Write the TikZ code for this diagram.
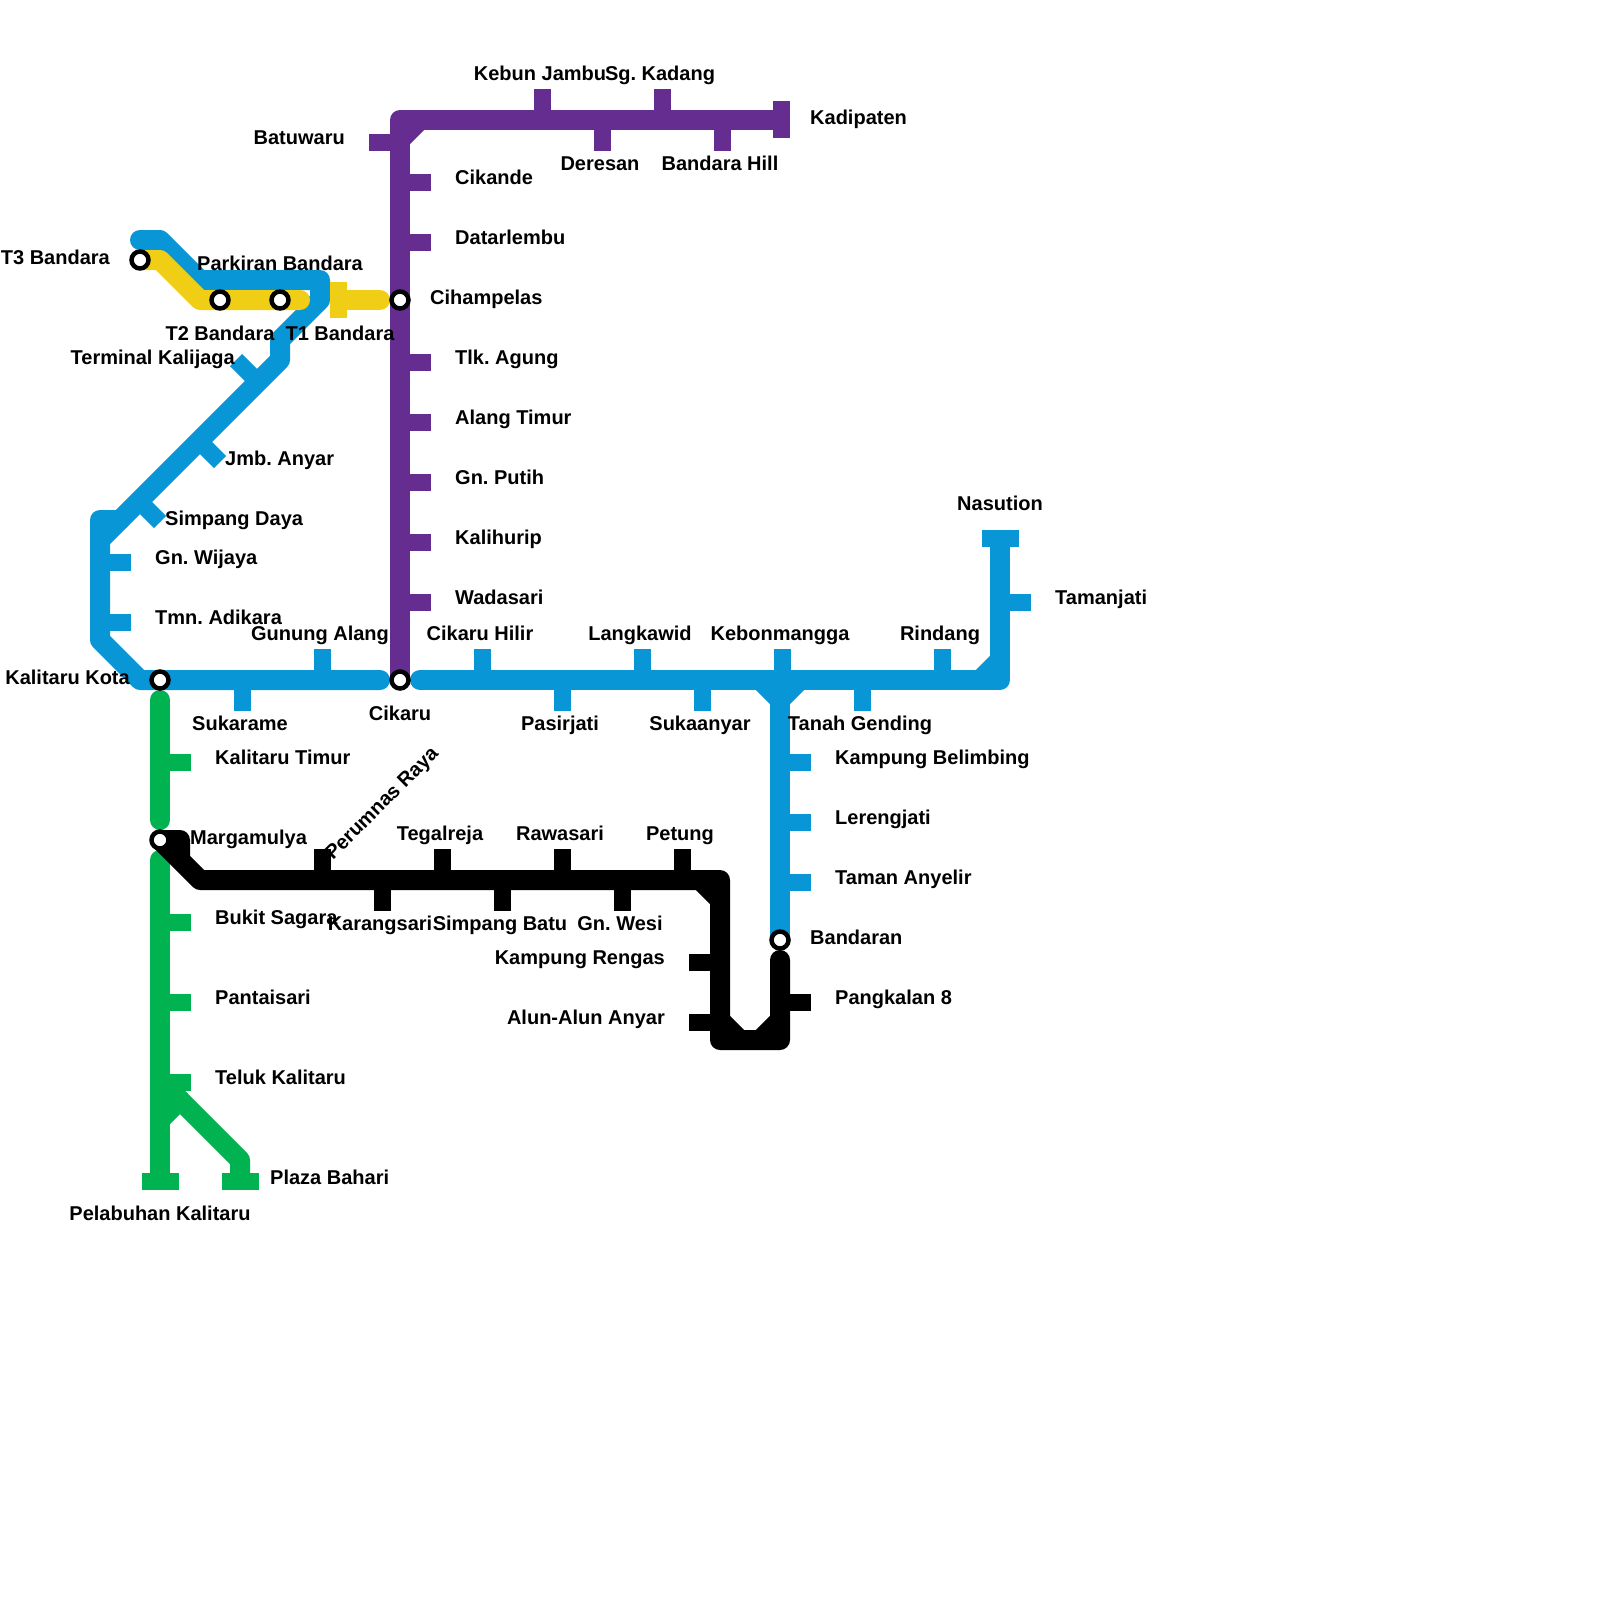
\documentclass[tikz,border=0pt]{standalone}
\usepackage{fontspec}
\setmainfont{Liberation Sans}
\frenchspacing
\definecolor{lineblue}{RGB}{9, 150, 215}
\definecolor{linepurple}{RGB}{102, 45, 145}
\definecolor{linegreen}{RGB}{0, 178, 80}
\definecolor{lineyellow}{RGB}{240, 206, 21}
\tikzset{
    metroline/.style={line width=20pt, line cap=round, line join=round},
    stoptick/.style={line width=17pt},
    endbar/.style={line width=17pt},
    stoplabel/.style={font=\bfseries\fontsize{20}{24}\selectfont, inner sep=0pt, text=black, yshift=-0.7pt},
    interchange/.style={circle, draw=black, fill=white, line width=4.5pt, minimum size=17pt, inner sep=0pt}
}

\begin{document}
\begin{tikzpicture}[x=1pt, y=-1pt]
    \useasboundingbox (0,0) rectangle (1600,1600);
    \coordinate (tiga) at (140,260);
    \coordinate (dua) at (220,300);
    \coordinate (satu) at (280,300);
    \coordinate (cihampelas) at (400,300);
    \coordinate (kota) at (160,680);
    \coordinate (cikaru) at (400,680);
    \coordinate (margamulya) at (160,840);
    \coordinate (bandaran) at (780,940);

    % lines
    \draw[metroline, linepurple] (cikaru) -- (400,120) -- (780,120);
    \draw[metroline, linepurple] (400,140) -- (420,120);
    \draw[metroline, lineblue] (140,240) -- (160,240) -- (200,280) -- (320,280) -- (320,300) -- (280,340) -- (280,360) -- (100,540) -- (100,640) -- (140,680) -- (380,680);
    \draw[metroline, lineblue] (120,520) -- (100,520) -- (100,540);
    \draw[metroline, lineblue] (420,680) -- (1000,680) -- (1000,540);
    \draw[metroline, lineblue] (980,680) -- (1000,660);
    \draw[metroline, lineblue] (760,680) -- (780,700) -- (800,680);
    \draw[metroline, lineblue] (780,680) -- (bandaran);
    \draw[metroline, lineyellow] (tiga) -- (160,260) -- (200,300) -- (300,300);
    \draw[metroline, lineyellow] (340,300) -- (380,300);
    \draw[metroline, linegreen] (160,700) -- (160,820);
    \draw[metroline, linegreen] (160,860) -- (160,1180);
    \draw[metroline, linegreen] (160,1120) -- (180,1100);
    \draw[metroline, linegreen] (160,1080) -- (240,1160) -- (240,1180);
    \draw[metroline, black] (780,960) -- (780,1040) -- (720,1040) -- (720,880) -- (200,880) -- (margamulya) -- (180,840) -- (180,860);
    \draw[metroline, black] (700,880) -- (720,900);
    \draw[metroline, black] (720,1020) -- (740,1040);
    \draw[metroline, black] (760,1040) -- (780,1020);

    % line ends
    \draw[endbar, lineyellow] (338.5,282) -- (338.5,318);
    \draw[endbar, linepurple] (781.5,101) -- (781.5,138);
    \draw[endbar, lineblue] (981.5,538.5) -- (1018.5,538.5);
    \draw[endbar, linegreen] (141.5,1181.5) -- (178.5,1181.5);
    \draw[endbar, linegreen] (221.5,1181.5) -- (258.5,1181.5);

    % stops on the purple line
    \draw[stoptick, linepurple] (369,142.5) -- (400,142.5);
    \foreach \sy/\sname in {180/Cikande, 240/Datarlembu, 360/Tlk. Agung, 420/Alang Timur, 480/Gn. Putih, 540/Kalihurip, 600/Wadasari} {
        \draw[stoptick, linepurple] (400,\sy+2.5) -- (431,\sy+2.5);
        \node at (455,\sy+4) [stoplabel, anchor=base west] (purple\sy) {\sname};
    }
    \foreach \sx/\sname in {540/Kebun Jambu, 660/Sg. Kadang} {
        \draw[stoptick, linepurple] (\sx+2.5,89) -- (\sx+2.5,120);
        \node at (\sx,80) [stoplabel, anchor=base] (purple\sx) {\sname};
    }
    \foreach \sx/\sname in {600/Deresan, 720/Bandara Hill} {
        \draw[stoptick, linepurple] (\sx+2.5,120) -- (\sx+2.5,151);
        \node at (\sx,169.5) [stoplabel, anchor=base] (purple\sx) {\sname};
    }

    % stops on the blue line
    \draw[stoptick, lineblue] (236,360) -- (258,382);
    \draw[stoptick, lineblue] (220,462) -- (198,440);
    \draw[stoptick, lineblue] (160,522) -- (138,500);
    \foreach \sy/\sname in {560/Gn. Wijaya, 620/Tmn. Adikara} {
        \draw[stoptick, lineblue] (100,\sy+2.5) -- (131,\sy+2.5);
        \node at (155,\sy+4) [stoplabel, anchor=base west] (blue\sy) {\sname};
    }
    \foreach \sx/\sname in {320/Gunung Alang, 480/Cikaru Hilir, 640/Langkawid, 780/Kebonmangga, 940/Rindang} {
        \draw[stoptick, lineblue] (\sx+2.5,649) -- (\sx+2.5,680);
        \node at (\sx,640) [stoplabel, anchor=base] (blue\sx) {\sname};
    }
    \foreach \sx/\sname in {240/Sukarame, 560/Pasirjati, 700/Sukaanyar, 860/Tanah Gending} {
        \draw[stoptick, lineblue] (\sx+2.5,680) -- (\sx+2.5,711);
        \node at (\sx,729.5) [stoplabel, anchor=base] (blue\sx) {\sname};
    }
    \foreach \sy/\sname in {760/Kampung Belimbing, 820/Lerengjati, 880/Taman Anyelir} {
        \draw[stoptick, lineblue] (780,\sy+2.5) -- (811,\sy+2.5);
        \node at (835,\sy+4) [stoplabel, anchor=base west] (branch\sy) {\sname};
    }
    \draw[stoptick, lineblue] (1000,602.5) -- (1031,602.5);

    % stops on the green line
    \foreach \sy/\sname in {760/Kalitaru Timur, 920/Bukit Sagara, 1000/Pantaisari, 1080/Teluk Kalitaru} {
        \draw[stoptick, linegreen] (160,\sy+2.5) -- (191,\sy+2.5);
        \node at (215,\sy+4) [stoplabel, anchor=base west] (green\sy) {\sname};
    }

    % stops on the black line
    \foreach \sx/\sname in {440/Tegalreja, 560/Rawasari, 680/Petung} {
        \draw[stoptick, black] (\sx+2.5,849) -- (\sx+2.5,880);
        \node at (\sx,840) [stoplabel, anchor=base] (black\sx) {\sname};
    }
    \draw[stoptick, black] (322.5,849) -- (322.5,880);
    \foreach \sx/\sname in {380/Karangsari, 500/Simpang Batu, 620/Gn. Wesi} {
        \draw[stoptick, black] (\sx+2.5,880) -- (\sx+2.5,911);
        \node at (\sx,930) [stoplabel, anchor=base] (black\sx) {\sname};
    }
    \foreach \sy/\sname in {960/Kampung Rengas, 1020/Alun-Alun Anyar} {
        \draw[stoptick, black] (689,\sy+2.5) -- (720,\sy+2.5);
        \node at (665,\sy+4) [stoplabel, anchor=base east] (black\sy) {\sname};
    }
    \draw[stoptick, black] (780,1002.5) -- (811,1002.5);

    % other labels
    \node at (345,144) [stoplabel, anchor=base east] (batuwaru) {Batuwaru};
    \node at (810,124) [stoplabel, anchor=base west] (kadipaten) {Kadipaten};
    \node at (430,304) [stoplabel, anchor=base west] (cihampelaslabel) {Cihampelas};
    \node at (110,264) [stoplabel, anchor=base east] (tigalabel) {T3 Bandara};
    \node at (280,270) [stoplabel, anchor=base] (parkiran) {Parkiran Bandara};
    \node at (220,339.5) [stoplabel, anchor=base] (dualabel) {T2 Bandara};
    \node at (340,339.5) [stoplabel, anchor=base] (satulabel) {T1 Bandara};
    \node at (235,364) [stoplabel, anchor=base east] (kalijaga) {Terminal Kalijaga};
    \node at (225,464.5) [stoplabel, anchor=base west] (jmb) {Jmb. Anyar};
    \node at (165,524.5) [stoplabel, anchor=base west] (simpang) {Simpang Daya};
    \node at (1000,509.5) [stoplabel, anchor=base] (nasution) {Nasution};
    \node at (1055,604) [stoplabel, anchor=base west] (tamanjati) {Tamanjati};
    \node at (130,684) [stoplabel, anchor=base east] (kotalabel) {Kalitaru Kota};
    \node at (400,719.5) [stoplabel, anchor=base] (cikarulabel) {Cikaru};
    \node at (190,844) [stoplabel, anchor=base west] (margalabel) {Margamulya};
    \node at (333,860) [stoplabel, anchor=base west, rotate=45] (perumnas) {Perumnas Raya};
    \node at (810,944) [stoplabel, anchor=base west] (bandaranlabel) {Bandaran};
    \node at (835,1004) [stoplabel, anchor=base west] (pangkalan) {Pangkalan 8};
    \node at (270,1184) [stoplabel, anchor=base west] (plaza) {Plaza Bahari};
    \node at (160,1219.5) [stoplabel, anchor=base] (pelabuhan) {Pelabuhan Kalitaru};

    % interchanges
    \foreach \sname in {tiga, dua, satu, cihampelas, kota, cikaru, margamulya, bandaran} {
        \node at (\sname) [interchange] (stop\sname) {};
    }
\end{tikzpicture}
\end{document}
